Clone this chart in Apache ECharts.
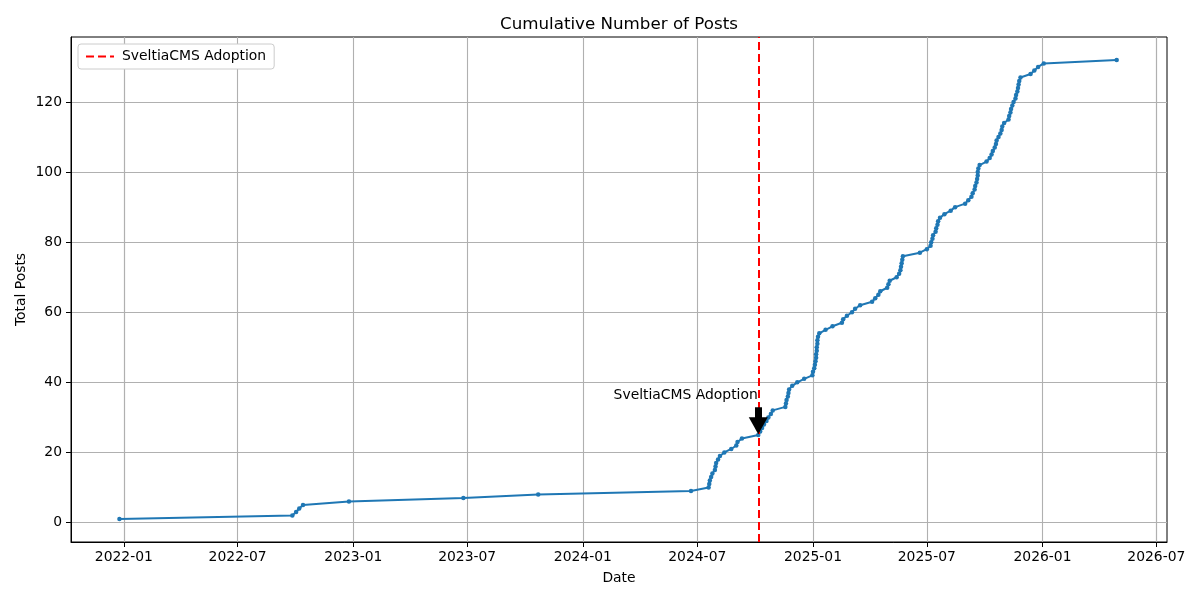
<!DOCTYPE html>
<html>
<head>
<meta charset="utf-8">
<script src="https://cdn.jsdelivr.net/npm/echarts@6/dist/echarts.min.js"></script>
<style>
  html, body { margin: 0; padding: 0; background: #fff; }
  #chart { width: 1200px; height: 600px; }
</style>
</head>
<body>
<div id="chart"></div>
<script>
// post dates, one per point
var postDates = [
  '2021-12-25', '2022-09-26', '2022-10-02', '2022-10-07', '2022-10-13', '2022-12-25',
  '2023-06-25', '2023-10-22', '2024-06-21', '2024-07-19', '2024-07-20', '2024-07-21',
  '2024-07-23', '2024-07-25', '2024-07-29', '2024-07-30', '2024-07-31', '2024-08-03',
  '2024-08-06', '2024-08-13', '2024-08-24', '2024-09-01', '2024-09-03', '2024-09-10',
  '2024-10-06', '2024-10-09', '2024-10-12', '2024-10-15', '2024-10-19', '2024-10-22',
  '2024-10-26', '2024-10-29', '2024-11-18', '2024-11-19', '2024-11-20', '2024-11-22',
  '2024-11-23', '2024-11-24', '2024-11-29', '2024-12-07', '2024-12-18', '2024-12-31',
  '2025-01-01', '2025-01-03', '2025-01-04', '2025-01-05', '2025-01-06', '2025-01-06',
  '2025-01-07', '2025-01-07', '2025-01-08', '2025-01-08', '2025-01-09', '2025-01-11',
  '2025-01-21', '2025-02-01', '2025-02-16', '2025-02-18', '2025-02-24', '2025-03-04',
  '2025-03-09', '2025-03-17', '2025-04-05', '2025-04-10', '2025-04-15', '2025-04-18',
  '2025-04-29', '2025-05-01', '2025-05-03', '2025-05-14', '2025-05-18', '2025-05-20',
  '2025-05-21', '2025-05-22', '2025-05-23', '2025-05-24', '2025-06-20', '2025-07-01',
  '2025-07-07', '2025-07-08', '2025-07-10', '2025-07-11', '2025-07-15', '2025-07-16',
  '2025-07-18', '2025-07-19', '2025-07-22', '2025-07-29', '2025-08-08', '2025-08-15',
  '2025-08-31', '2025-09-05', '2025-09-10', '2025-09-12', '2025-09-15', '2025-09-16',
  '2025-09-18', '2025-09-19', '2025-09-20', '2025-09-20', '2025-09-21', '2025-09-23',
  '2025-10-04', '2025-10-09', '2025-10-12', '2025-10-14', '2025-10-17', '2025-10-19',
  '2025-10-20', '2025-10-23', '2025-10-26', '2025-10-28', '2025-10-29', '2025-11-01',
  '2025-11-08', '2025-11-09', '2025-11-11', '2025-11-12', '2025-11-14', '2025-11-16',
  '2025-11-19', '2025-11-20', '2025-11-22', '2025-11-23', '2025-11-24', '2025-11-25',
  '2025-11-27', '2025-12-13', '2025-12-19', '2025-12-25', '2026-01-03', '2026-04-29'
];

var totalPosts = [
  1, 2, 3, 4, 5, 6, 7, 8, 9, 10, 11, 12,
  13, 14, 15, 16, 17, 18, 19, 20, 21, 22, 23, 24,
  25, 26, 27, 28, 29, 30, 31, 32, 33, 34, 35, 36,
  37, 38, 39, 40, 41, 42, 43, 44, 45, 46, 47, 48,
  49, 50, 51, 52, 53, 54, 55, 56, 57, 58, 59, 60,
  61, 62, 63, 64, 65, 66, 67, 68, 69, 70, 71, 72,
  73, 74, 75, 76, 77, 78, 79, 80, 81, 82, 83, 84,
  85, 86, 87, 88, 89, 90, 91, 92, 93, 94, 95, 96,
  97, 98, 99, 100, 101, 102, 103, 104, 105, 106, 107, 108,
  109, 110, 111, 112, 113, 114, 115, 116, 117, 118, 119, 120,
  121, 122, 123, 124, 125, 126, 127, 128, 129, 130, 131, 132
];

var adoptionDate = '2024-10-06';
var adoptionLabel = 'SveltiaCMS Adoption';
// annotation: text height and arrow span, in posts
var annotTextY = 36.3;
var arrowFrom = 32.9;
var arrowTo = 27.6;

var xTickDates = ['2022-01-01', '2022-07-01', '2023-01-01', '2023-07-01', '2024-01-01',
  '2024-07-01', '2025-01-01', '2025-07-01', '2026-01-01', '2026-07-01'];
var yTicks = [0, 20, 40, 60, 80, 100, 120];

var xRange = ['2021-10-09', '2026-07-18'];
var yRange = [-5.55, 138.55];

// local-time parse, same as echarts does for plain date strings
function toTime(s) {
  var p = s.split('-');
  return new Date(+p[0], +p[1] - 1, +p[2]).getTime();
}

var seriesData = postDates.map(function (d, i) {
  return [toTime(d), totalPosts[i]];
});
var adoptionTime = toTime(adoptionDate);

var font = 'DejaVu Sans';
var fs = 13.9;

var dom = document.getElementById('chart');
var myChart = echarts.init(dom, null, { renderer: 'canvas' });

var option = {
  animation: false,
  backgroundColor: '#fff',
  textStyle: { fontFamily: font },
  title: {
    text: 'Cumulative Number of Posts',
    left: 500,
    top: 16,
    padding: 0,
    textStyle: { fontFamily: font, fontSize: 16.7, fontWeight: 'normal', color: '#000' }
  },
  legend: {
    data: [adoptionLabel],
    left: 78,
    top: 44,
    padding: [5.5, 8, 5.5, 7],
    itemWidth: 28,
    itemHeight: 14,
    itemStyle: { opacity: 0 },
    backgroundColor: '#fff',
    borderColor: '#cccccc',
    borderWidth: 1,
    borderRadius: 3,
    textStyle: { fontFamily: font, fontSize: fs, color: '#000', padding: [0, 0, 0, 3] }
  },
  grid: {
    left: 71,
    right: 33,
    top: 37,
    bottom: 58,
    show: true,
    borderColor: '#000',
    borderWidth: 1,
    backgroundColor: 'transparent'
  },
  xAxis: {
    type: 'time',
    min: toTime(xRange[0]),
    max: toTime(xRange[1]),
    name: 'Date',
    nameLocation: 'middle',
    nameGap: 29,
    nameMoveOverlap: false,
    nameTextStyle: { fontFamily: font, fontSize: fs, color: '#000' },
    axisLine: { show: true, onZero: false, lineStyle: { color: '#000', width: 1 } },
    axisTick: {
      show: true, inside: false, length: 5,
      lineStyle: { color: '#000', width: 1 },
      customValues: xTickDates.map(toTime)
    },
    axisLabel: {
      color: '#000', fontFamily: font, fontSize: fs, margin: 8,
      customValues: xTickDates.map(toTime),
      formatter: '{yyyy}-{MM}'
    },
    splitLine: { show: true, lineStyle: { color: '#b0b0b0', width: 1.1 } }
  },
  yAxis: {
    type: 'value',
    min: yRange[0],
    max: yRange[1],
    name: 'Total Posts',
    nameLocation: 'middle',
    nameGap: 43,
    nameMoveOverlap: false,
    nameTextStyle: { fontFamily: font, fontSize: fs, color: '#000' },
    axisLine: { show: true, onZero: false, lineStyle: { color: '#000', width: 1 } },
    axisTick: {
      show: true, inside: false, length: 5,
      lineStyle: { color: '#000', width: 1 },
      customValues: yTicks
    },
    axisLabel: {
      color: '#000', fontFamily: font, fontSize: fs, margin: 9,
      customValues: yTicks
    },
    splitLine: { show: true, lineStyle: { color: '#b0b0b0', width: 1.1 } }
  },
  series: [
    {
      name: 'Total Posts',
      type: 'line',
      data: seriesData,
      color: '#1f77b4',
      lineStyle: { color: '#1f77b4', width: 2 },
      symbol: 'circle',
      symbolSize: 4.5,
      showSymbol: true,
      showAllSymbol: true,
      itemStyle: { color: '#1f77b4' },
      z: 2,
      markLine: {
        silent: true,
        symbol: ['none', 'triangle'],
        symbolSize: [19, 17],
        label: { show: false },
        lineStyle: { color: '#000', width: 7, type: 'solid' },
        data: [
          [{ coord: [adoptionTime, arrowFrom] }, { coord: [adoptionTime, arrowTo] }]
        ],
        z: 5
      },
      markPoint: {
        silent: true,
        symbol: 'circle',
        symbolSize: 1,
        itemStyle: { color: 'rgba(0,0,0,0)' },
        label: {
          show: true,
          position: 'left',
          distance: 0,
          formatter: adoptionLabel,
          color: '#000',
          fontFamily: font,
          fontSize: fs
        },
        data: [{ coord: [adoptionTime, annotTextY] }]
      }
    },
    {
      name: adoptionLabel,
      type: 'line',
      data: [],
      symbol: 'none',
      color: '#ff0000',
      lineStyle: { color: '#ff0000', width: 2, type: [8, 4] },
      itemStyle: { color: '#ff0000' },
      markLine: {
        silent: true,
        symbol: ['none', 'none'],
        label: { show: false },
        lineStyle: { color: '#ff0000', width: 2, type: [8, 4] },
        data: [{ xAxis: adoptionTime }],
        z: 4
      }
    }
  ]
};

if (option && typeof option === 'object') {
  myChart.setOption(option);
}
</script>
</body>
</html>
